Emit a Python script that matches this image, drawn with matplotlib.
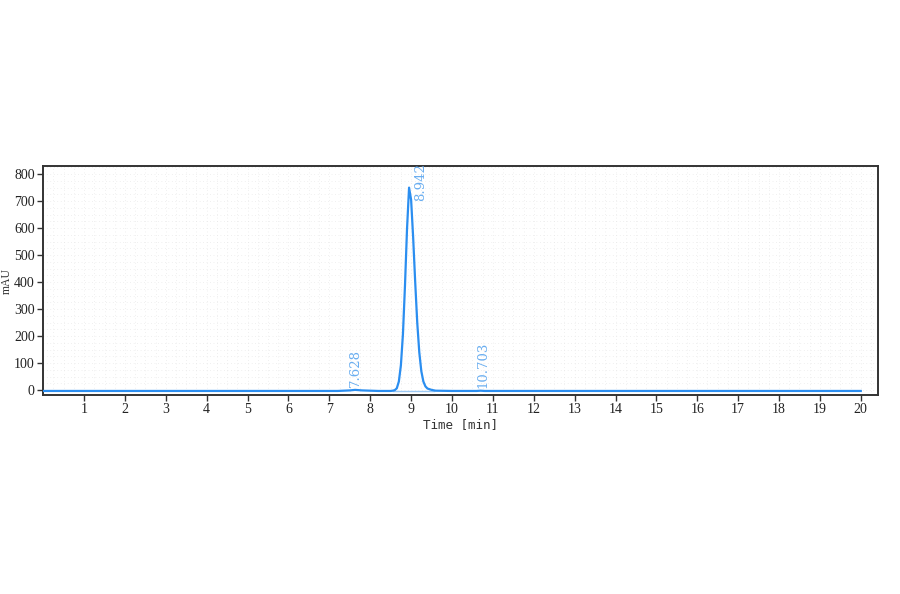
import matplotlib
matplotlib.use("Agg")
import matplotlib.pyplot as plt
from matplotlib.ticker import MultipleLocator

# chromatogram trace (time in min, signal in mAU)
times = [0.0, 2.0, 4.0, 6.0, 7.2, 7.5, 7.63, 7.8, 8.2, 8.5, 8.55, 8.60, 8.65, 8.70,
         8.75, 8.80, 8.85, 8.90, 8.95, 9.00, 9.05, 9.10, 9.15, 9.20, 9.25,
         9.30, 9.35, 9.40, 9.50, 9.60, 10.0, 10.6, 10.70, 10.8, 12.0, 14.0,
         16.0, 18.0, 20.0]
signal = [-3, -3, -3, -3, -3, -1, 1, -1, -3, -3, -2, 0, 7, 32,
          92, 207, 387, 597, 750, 705, 565, 400, 250, 140, 70,
          32, 14, 6, 1, -2, -3, -3, -2, -3, -3, -3,
          -3, -3, -3]

peak_times = [7.628, 8.942, 10.703]
peak_labels = ["7.628", "8.942", "10.703"]
peak_heights = [3, 752, -2]

# integration baseline under main peak
base_t = [8.55, 9.55]
base_v = [-3, -3]

fig = plt.figure(figsize=(9, 5.94), dpi=100)
ax = fig.add_axes([0.048, 0.335, 0.9275, 0.3855])

ax.plot(base_t, base_v, color="#9cc8f2", lw=1.0, zorder=2)
ax.plot(times, signal, color="#2b8ef0", lw=1.6, zorder=3)

label_font = dict(family="DejaVu Serif", size=9.5, color="#6aaef0")
ax.text(peak_times[0] + 0.02, peak_heights[0] + 8, peak_labels[0], rotation=90,
        ha="center", va="bottom", **label_font)
ax.text(peak_times[1] + 0.3, peak_heights[1] - 50, peak_labels[1], rotation=90,
        ha="center", va="bottom", clip_on=True, **label_font)
ax.text(peak_times[2] + 0.05, peak_heights[2] + 10, peak_labels[2], rotation=90,
        ha="center", va="bottom", **label_font)

ax.set_xlim(0, 20.42)
ax.set_ylim(-18, 830)
ax.set_xticks(range(1, 21))
ax.set_yticks(range(0, 801, 100))
ax.xaxis.set_minor_locator(MultipleLocator(0.25))
ax.yaxis.set_minor_locator(MultipleLocator(25))
ax.grid(which="both", color="#e2e2e2", linestyle=(0, (1, 4)), lw=0.5)
ax.set_axisbelow(True)

for sp in ax.spines.values():
    sp.set_color("#333333")
    sp.set_linewidth(1.4)
ax.tick_params(which="major", direction="out", length=4, width=1, color="#333333",
               labelsize=10, labelcolor="#222222", pad=2)
ax.tick_params(which="minor", length=0)
for lab in ax.get_xticklabels() + ax.get_yticklabels():
    lab.set_family("Liberation Serif")

ax.set_xlabel("Time [min]", family="DejaVu Sans Mono", size=9, color="#333333", labelpad=1)
ax.set_ylabel("mAU", family="Liberation Serif", size=8.5, color="#333333", labelpad=1)

fig.savefig("out.png", dpi=100, facecolor="white")
